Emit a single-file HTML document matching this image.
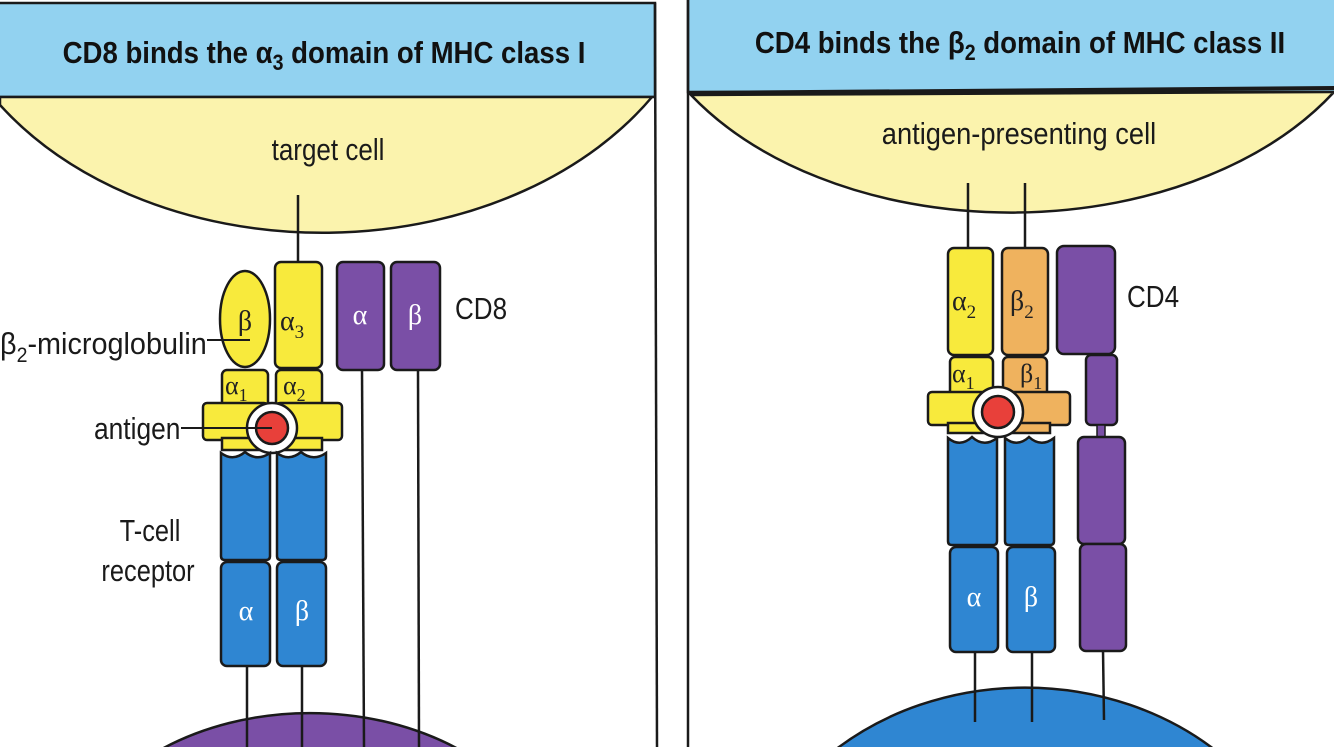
<!DOCTYPE html>
<html><head><meta charset="utf-8"><style>
html,body{margin:0;padding:0;background:#fff;width:1334px;height:747px;overflow:hidden}
svg{display:block;overflow:hidden}
.n{font-family:"Liberation Sans",sans-serif;fill:#1a1a1a}
.h{font-family:"Liberation Sans",sans-serif;font-weight:bold;fill:#111}
.g{font-family:"Liberation Serif",serif;fill:#222}
.w{font-family:"Liberation Serif",serif;fill:#fff}
</style></head><body>
<svg width="1334" height="747" viewBox="0 0 1334 747" xmlns="http://www.w3.org/2000/svg">
<g stroke="#1a1a1a" stroke-width="2.5">
<rect x="-5" y="3" width="660" height="94" fill="#92d2f0"/>
<path d="M0 105 A390 292 0 0 0 652 97 L0 97 Z" fill="#fbf3ad"/>
<line x1="655" y1="3" x2="657" y2="747"/>
<path d="M160 750 A255 193 0 0 1 460 750 Z" fill="#7a4fa6"/>
<line x1="298" y1="195" x2="298" y2="262"/>
<line x1="247" y1="665" x2="247" y2="747"/>
<line x1="302" y1="665" x2="302" y2="747"/>
<line x1="362" y1="370" x2="364" y2="747"/>
<line x1="418" y1="370" x2="419" y2="747"/>
<rect x="337" y="262" width="47" height="108" rx="6" fill="#7a4fa6"/>
<rect x="391" y="262" width="49" height="108" rx="6" fill="#7a4fa6"/>
<rect x="275" y="262" width="47" height="106" rx="6" fill="#f8ea3c"/>
<ellipse cx="245" cy="319" rx="25" ry="48" fill="#f8ea3c"/>
<rect x="222" y="370" width="46" height="42" rx="5" fill="#f8ea3c"/>
<rect x="203" y="403" width="65" height="37" rx="4" fill="#f8ea3c"/>
<rect x="276" y="370" width="46" height="42" rx="5" fill="#f8ea3c"/>
<rect x="276" y="403" width="66" height="37" rx="4" fill="#f8ea3c"/>
<path d="M222 438 L222 450 L268 450 L268 438 Z M276 438 L276 450 L322 450 L322 438 Z" fill="#f8ea3c"/>
<circle cx="272" cy="428" r="25" fill="#fff"/>
<circle cx="272" cy="428" r="16" fill="#e8403a"/>
<path d="M221 453 Q233 462 245 452 Q257 462 270 453 V556 Q270 560 266 560 H225 Q221 560 221 556 Z" fill="#2f86d2"/>
<path d="M277 453 Q289 462 301 452 Q313 462 326 453 V556 Q326 560 322 560 H281 Q277 560 277 556 Z" fill="#2f86d2"/>
<rect x="221" y="562" width="49" height="104" rx="6" fill="#2f86d2"/>
<rect x="277" y="562" width="49" height="104" rx="6" fill="#2f86d2"/>
<line x1="181" y1="428" x2="272" y2="428" stroke-width="2"/>
<line x1="207" y1="340" x2="250" y2="340" stroke-width="2"/>

<rect x="688" y="-2" width="660" height="94" fill="#92d2f0"/>
<line x1="688" y1="93" x2="1334" y2="88" stroke-width="4"/>
<path d="M691 95 A380 255 0 0 0 1334 92 Z" fill="#fbf3ad"/>
<line x1="688" y1="0" x2="688" y2="747"/>
<path d="M835 750 A285 245 0 0 1 1215 750 Z" fill="#2f86d2"/>
<line x1="968" y1="183" x2="968" y2="248"/>
<line x1="1025" y1="183" x2="1025" y2="248"/>
<line x1="975" y1="652" x2="975" y2="722"/>
<line x1="1032" y1="652" x2="1032" y2="722"/>
<line x1="1103" y1="650" x2="1104" y2="720"/>
<rect x="1057" y="246" width="58" height="108" rx="7" fill="#7a4fa6"/>
<rect x="1086" y="355" width="31" height="70" rx="5" fill="#7a4fa6"/>
<rect x="1097" y="425" width="8" height="12" fill="#7a4fa6" stroke-width="1.5"/>
<rect x="1078" y="437" width="47" height="107" rx="6" fill="#7a4fa6"/>
<rect x="1080" y="544" width="46" height="107" rx="6" fill="#7a4fa6"/>
<rect x="948" y="248" width="45" height="107" rx="6" fill="#f8ea3c"/>
<rect x="1002" y="248" width="46" height="107" rx="6" fill="#efb25e"/>
<rect x="950" y="357" width="43" height="40" rx="5" fill="#f8ea3c"/>
<rect x="928" y="392" width="65" height="33" rx="4" fill="#f8ea3c"/>
<rect x="1003" y="357" width="44" height="40" rx="5" fill="#efb25e"/>
<rect x="1003" y="392" width="67" height="33" rx="4" fill="#efb25e"/>
<path d="M948 423 V433 H993 V423 Z" fill="#f8ea3c"/>
<path d="M1005 423 V433 H1050 V423 Z" fill="#efb25e"/>
<circle cx="998" cy="412" r="25" fill="#fff"/>
<circle cx="998" cy="412" r="16" fill="#e8403a"/>
<path d="M948 438 Q960 448 972 437 Q984 448 997 438 V541 Q997 545 993 545 H952 Q948 545 948 541 Z" fill="#2f86d2"/>
<path d="M1005 438 Q1017 448 1029 437 Q1041 448 1054 438 V541 Q1054 545 1050 545 H1009 Q1005 545 1005 541 Z" fill="#2f86d2"/>
<rect x="950" y="547" width="48" height="105" rx="6" fill="#2f86d2"/>
<rect x="1007" y="547" width="48" height="105" rx="6" fill="#2f86d2"/>
</g>

<g transform="translate(324,63) scale(0.89,1)"><text class="h" font-size="31" text-anchor="middle">CD8 binds the α<tspan font-size="22" dy="7">3</tspan><tspan dy="-7"> domain of MHC class I</tspan></text></g>
<g transform="translate(1020,53) scale(0.89,1)"><text class="h" font-size="31" text-anchor="middle">CD4 binds the β<tspan font-size="22" dy="7">2</tspan><tspan dy="-7"> domain of MHC class II</tspan></text></g>
<g transform="translate(328,160) scale(0.84,1)"><text class="n" font-size="31" text-anchor="middle">target cell</text></g>
<g transform="translate(1019,144) scale(0.88,1)"><text class="n" font-size="31" text-anchor="middle">antigen-presenting cell</text></g>
<g transform="translate(455,319) scale(0.84,1)"><text class="n" font-size="31">CD8</text></g>
<g transform="translate(1127,307) scale(0.84,1)"><text class="n" font-size="31">CD4</text></g>
<g transform="translate(0,354) scale(0.93,1)"><text class="n" font-size="31">β<tspan font-size="21" dy="8">2</tspan><tspan dy="-8">-microglobulin</tspan></text></g>
<g transform="translate(94,439) scale(0.85,1)"><text class="n" font-size="31">antigen</text></g>
<g transform="translate(150,541) scale(0.82,1)"><text class="n" font-size="31" text-anchor="middle">T-cell</text></g>
<g transform="translate(148,581) scale(0.82,1)"><text class="n" font-size="31" text-anchor="middle">receptor</text></g>
<text class="g" x="245" y="330" font-size="28" text-anchor="middle">β</text>
<text class="g" x="280" y="330" font-size="28">α<tspan font-size="19" dy="8">3</tspan></text>
<text class="g" x="225" y="394" font-size="26">α<tspan font-size="18" dy="7">1</tspan></text>
<text class="g" x="283" y="394" font-size="26">α<tspan font-size="18" dy="7">2</tspan></text>
<text class="w" x="360" y="324" font-size="28" text-anchor="middle">α</text>
<text class="w" x="415" y="324" font-size="28" text-anchor="middle">β</text>
<text class="w" x="246" y="620" font-size="28" text-anchor="middle">α</text>
<text class="w" x="302" y="620" font-size="28" text-anchor="middle">β</text>
<text class="g" x="952" y="310" font-size="28">α<tspan font-size="19" dy="8">2</tspan></text>
<text class="g" x="1010" y="310" font-size="28">β<tspan font-size="19" dy="8">2</tspan></text>
<text class="g" x="952" y="382" font-size="26">α<tspan font-size="18" dy="7">1</tspan></text>
<text class="g" x="1020" y="382" font-size="26">β<tspan font-size="18" dy="7">1</tspan></text>
<text class="w" x="974" y="606" font-size="28" text-anchor="middle">α</text>
<text class="w" x="1031" y="606" font-size="28" text-anchor="middle">β</text>
</svg>
</body></html>
